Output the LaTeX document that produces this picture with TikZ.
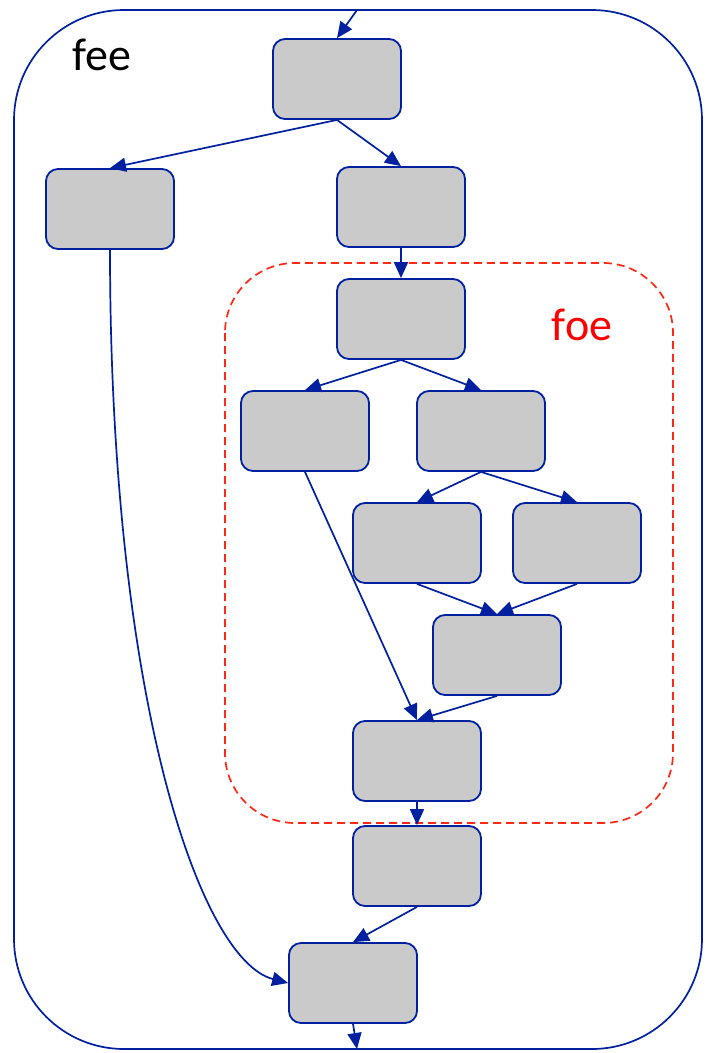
\documentclass[tikz,border=0pt]{standalone}
\usepackage{fontspec}
\setmainfont{Carlito}
\usetikzlibrary{arrows.meta}
\definecolor{edgeblue}{RGB}{0,32,160}
\definecolor{boxgray}{RGB}{202,202,202}
\definecolor{foered}{RGB}{255,40,20}
\begin{document}
\begin{tikzpicture}[x=1pt,y=-1pt,
  task/.style={draw=edgeblue, fill=boxgray, line width=1.8pt, rounded corners=12pt,
    minimum width=128pt, minimum height=80pt, inner sep=0pt},
  flow/.style={draw=edgeblue, line width=1.7pt, -{Triangle[length=16pt,width=14pt]}},
  region/.style={line width=1.7pt},
  title/.style={font=\fontsize{46}{46}\selectfont},
]
\useasboundingbox (0,0) rectangle (708,1053);

% outer region "fee"
\draw[region, draw=edgeblue, rounded corners=110pt] (14,10) rectangle (702,1049);
\node[title, text=black] (feelabel) at (102,55) {fee};

% inner dashed region "foe"
\draw[region, draw=foered, dash pattern=on 8pt off 5pt, rounded corners=70pt] (225,263) rectangle (673,823);
\node[title, text=red] (foelabel) at (582,325) {foe};

% tasks
\node[task] (a) at (337,79) {};
\node[task] (b) at (110,209) {};
\node[task] (c) at (401,207) {};
\node[task] (d) at (401,319) {};
\node[task] (e) at (305,431) {};
\node[task] (f) at (481,431) {};
\node[task] (g) at (417,543) {};
\node[task] (h) at (577,543) {};
\node[task] (i) at (497,655) {};
\node[task] (j) at (417,761) {};
\node[task] (k) at (417,866) {};
\node[task] (l) at (353,983) {};

% entry and exit points on the outer border
\coordinate (entry) at (357,10);
\coordinate (exit) at (357,1049);

% connectors
\draw[flow] (entry) -- (a.north);
\draw[flow] (a.south) -- (b.north);
\draw[flow] (a.south) -- (c.north);
\draw[flow] (c.south) -- (d.north);
\draw[flow] (d.south) -- (e.north);
\draw[flow] (d.south) -- (f.north);
\draw[flow] (f.south) -- (g.north);
\draw[flow] (f.south) -- (h.north);
\draw[flow] (g.south) -- (i.north);
\draw[flow] (h.south) -- (i.north);
\draw[flow] (e.south) -- (j.north);
\draw[flow] (i.south) -- (j.north);
\draw[flow] (j.south) -- (k.north);
\draw[flow] (k.south) -- (l.north);
\draw[flow] (b.south) .. controls (110,700) and (200,960) .. (l.west);
\draw[flow] (l.south) -- (exit);
\end{tikzpicture}
\end{document}
